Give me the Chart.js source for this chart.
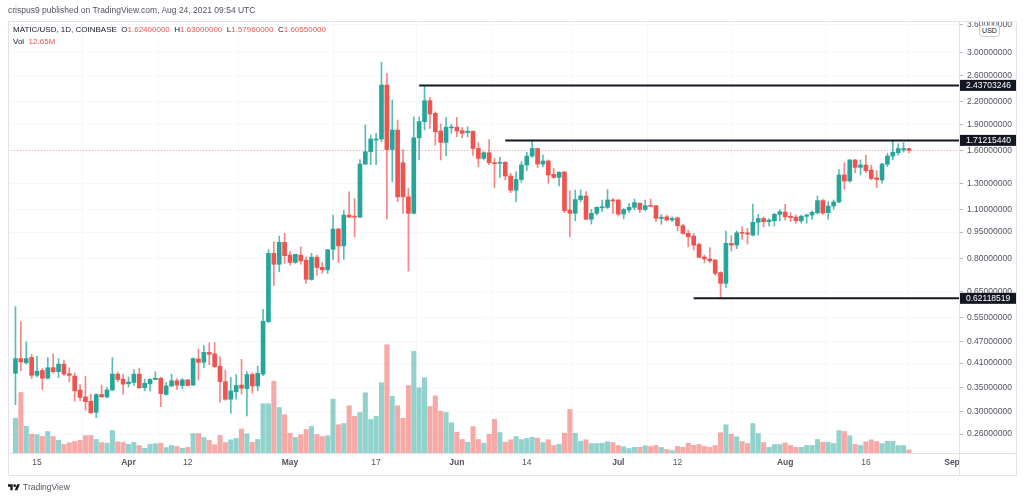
<!DOCTYPE html>
<html>
<head>
<meta charset="utf-8">
<script src="https://cdn.jsdelivr.net/npm/chart.js@4.4.0/dist/chart.umd.min.js"></script>
<style>
html, body { margin: 0; padding: 0; background: #fff; }
#wrap { position: relative; width: 1024px; height: 497px; overflow: hidden; font-family: "Liberation Sans", Arial, sans-serif; }
#chart { position: absolute; left: 0; top: 0; }
.txt { position: absolute; white-space: nowrap; line-height: 1; }
#published { left: 8px; top: 6px; font-size: 8.5px; color: #50535e; }
#legend { left: 13px; top: 26px; font-size: 8px; color: #131722; }
#vol { left: 13px; top: 38px; font-size: 8px; color: #131722; }
.red { color: #ef5350; }
#usd { left: 979px; top: 25px; width: 19px; height: 10px; border: 1px solid #c9ccd4; border-radius: 3px; background: #fff; font-size: 7px; color: #131722; text-align: center; line-height: 10px; }
#logo { left: 8px; top: 483px; font-size: 8.5px; color: #50535e; display: flex; align-items: center; gap: 3px; }
</style>
</head>
<body>
<div id="wrap">
    <canvas id="chart" width="1024" height="497"></canvas>
    <div class="txt" id="published">crispus9 published on TradingView.com, Aug 24, 2021 09:54 UTC</div>
    <div class="txt" id="legend">MATIC/USD, 1D, COINBASE&nbsp;&nbsp;O<span class="red">1.62400000</span>&nbsp;&nbsp;H<span class="red">1.63000000</span>&nbsp;&nbsp;L<span class="red">1.57960000</span>&nbsp;&nbsp;C<span class="red">1.60550000</span></div>
    <div class="txt" id="vol">Vol&nbsp;&nbsp;<span class="red">12.65M</span></div>
    <div class="txt" id="usd">USD</div>
    <div class="txt" id="logo">
        <svg width="12" height="8" viewBox="0 0 36 24"><path d="M14 22H7V11H0V4h14v18z" fill="#131722"/><circle cx="20" cy="8" r="4" fill="#131722"/><path d="M28 22h-8l7.5-18h8L28 22z" fill="#131722"/></svg>
        <span>TradingView</span>
    </div>
</div>
<script>
// Daily candles, index 0 = Mar 11 2021, last = Aug 24 2021
const opens = [
    0.384, 0.422, 0.411, 0.425, 0.379, 0.391, 0.372, 0.398, 0.388, 0.407,
    0.383, 0.377, 0.345, 0.330, 0.321, 0.299, 0.335, 0.330, 0.345, 0.382,
    0.370, 0.359, 0.362, 0.382, 0.350, 0.359, 0.369, 0.372, 0.335, 0.354,
    0.366, 0.355, 0.368, 0.356, 0.421, 0.412, 0.439, 0.435, 0.402, 0.364,
    0.325, 0.341, 0.356, 0.348, 0.381, 0.354, 0.382, 0.535, 0.829, 0.773,
    0.890, 0.820, 0.782, 0.820, 0.794, 0.701, 0.809, 0.758, 0.746, 0.851,
    0.969, 0.870, 1.060, 1.053, 1.046, 1.471, 1.592, 1.716, 1.727, 2.442,
    1.614, 1.830, 1.484, 1.192, 1.072, 1.740, 1.931, 2.209, 2.036, 1.818,
    1.690, 1.856, 1.864, 1.822, 1.800, 1.815, 1.625, 1.525, 1.582, 1.484,
    1.478, 1.488, 1.362, 1.243, 1.332, 1.462, 1.548, 1.625, 1.471, 1.500,
    1.377, 1.350, 1.398, 1.095, 1.072, 1.171, 1.198, 1.032, 1.072, 1.111,
    1.114, 1.168, 1.168, 1.067, 1.095, 1.114, 1.143, 1.099, 1.128, 1.126,
    1.037, 1.048, 1.027, 1.041, 0.990, 0.943, 0.926, 0.878, 0.810, 0.800,
    0.794, 0.733, 0.684, 0.884, 0.874, 0.949, 0.946, 0.932, 1.012, 1.037,
    1.016, 1.022, 1.065, 1.081, 1.052, 1.046, 1.022, 1.052, 1.060, 1.075,
    1.163, 1.076, 1.124, 1.153, 1.371, 1.320, 1.510, 1.440, 1.462, 1.416,
    1.346, 1.328, 1.469, 1.548, 1.582, 1.612, 1.624
];
const highs = [
    0.589, 0.535, 0.470, 0.434, 0.428, 0.396, 0.425, 0.435, 0.422, 0.418,
    0.398, 0.385, 0.357, 0.377, 0.336, 0.337, 0.356, 0.351, 0.425, 0.387,
    0.382, 0.375, 0.393, 0.397, 0.370, 0.371, 0.388, 0.374, 0.362, 0.382,
    0.371, 0.371, 0.369, 0.424, 0.448, 0.459, 0.467, 0.468, 0.427, 0.392,
    0.374, 0.381, 0.420, 0.388, 0.385, 0.402, 0.579, 0.849, 0.893, 0.926,
    0.943, 0.838, 0.825, 0.864, 0.811, 0.829, 0.820, 0.782, 0.851, 1.060,
    0.974, 1.093, 1.231, 1.179, 1.514, 1.890, 1.771, 1.790, 2.826, 2.634,
    2.219, 1.952, 1.614, 1.257, 1.992, 1.992, 2.437, 2.256, 2.058, 1.901,
    1.984, 1.900, 1.984, 1.861, 1.868, 1.820, 1.687, 1.592, 1.721, 1.525,
    1.535, 1.494, 1.386, 1.401, 1.494, 1.586, 1.712, 1.627, 1.558, 1.510,
    1.430, 1.401, 1.401, 1.239, 1.245, 1.245, 1.232, 1.100, 1.118, 1.168,
    1.249, 1.180, 1.170, 1.106, 1.143, 1.175, 1.148, 1.168, 1.175, 1.128,
    1.064, 1.060, 1.048, 1.048, 1.001, 0.963, 0.943, 0.887, 0.820, 0.860,
    0.798, 0.737, 0.957, 0.928, 0.957, 0.984, 0.974, 1.138, 1.065, 1.048,
    1.035, 1.072, 1.099, 1.136, 1.076, 1.060, 1.060, 1.067, 1.090, 1.198,
    1.175, 1.155, 1.168, 1.420, 1.484, 1.514, 1.514, 1.510, 1.558, 1.462,
    1.410, 1.478, 1.577, 1.712, 1.675, 1.687, 1.630
];
const lows = [
    0.314, 0.390, 0.407, 0.371, 0.375, 0.346, 0.370, 0.384, 0.373, 0.379,
    0.364, 0.321, 0.322, 0.303, 0.297, 0.289, 0.329, 0.328, 0.343, 0.364,
    0.336, 0.352, 0.355, 0.348, 0.343, 0.343, 0.368, 0.310, 0.334, 0.352,
    0.346, 0.348, 0.354, 0.355, 0.368, 0.398, 0.406, 0.398, 0.319, 0.323,
    0.297, 0.325, 0.336, 0.292, 0.338, 0.343, 0.378, 0.532, 0.674, 0.737,
    0.777, 0.769, 0.778, 0.773, 0.684, 0.698, 0.721, 0.729, 0.729, 0.798,
    0.782, 0.798, 1.044, 0.922, 1.042, 1.465, 1.465, 1.465, 1.697, 1.032,
    1.314, 1.155, 1.072, 0.740, 1.068, 1.510, 1.830, 1.849, 1.661, 1.510,
    1.552, 1.792, 1.753, 1.740, 1.751, 1.554, 1.445, 1.510, 1.465, 1.263,
    1.350, 1.328, 1.224, 1.155, 1.308, 1.410, 1.535, 1.438, 1.445, 1.300,
    1.341, 1.278, 1.076, 0.922, 1.022, 1.155, 1.030, 1.001, 1.060, 1.083,
    1.106, 1.072, 1.053, 1.034, 1.076, 1.095, 1.076, 1.090, 1.118, 1.016,
    0.999, 1.022, 1.016, 0.959, 0.937, 0.864, 0.847, 0.806, 0.780, 0.780,
    0.721, 0.621, 0.666, 0.842, 0.855, 0.908, 0.880, 0.928, 0.932, 0.983,
    0.988, 0.988, 1.020, 1.027, 1.016, 1.006, 1.006, 1.006, 1.031, 1.067,
    1.065, 1.031, 1.100, 1.148, 1.252, 1.308, 1.392, 1.371, 1.392, 1.328,
    1.263, 1.300, 1.445, 1.510, 1.558, 1.586, 1.5796
];
const closes = [
    0.422, 0.413, 0.422, 0.379, 0.389, 0.372, 0.398, 0.388, 0.407, 0.382,
    0.379, 0.343, 0.329, 0.320, 0.298, 0.335, 0.330, 0.345, 0.382, 0.369,
    0.358, 0.363, 0.382, 0.350, 0.360, 0.369, 0.372, 0.337, 0.354, 0.366,
    0.356, 0.368, 0.355, 0.422, 0.412, 0.439, 0.434, 0.401, 0.364, 0.325,
    0.343, 0.355, 0.349, 0.381, 0.354, 0.384, 0.536, 0.829, 0.773, 0.890,
    0.817, 0.782, 0.824, 0.790, 0.702, 0.809, 0.757, 0.746, 0.848, 0.969,
    0.870, 1.060, 1.046, 1.046, 1.471, 1.592, 1.727, 1.727, 2.442, 1.614,
    1.830, 1.192, 1.192, 1.072, 1.740, 1.931, 2.209, 2.027, 1.810, 1.690,
    1.864, 1.864, 1.818, 1.792, 1.815, 1.625, 1.525, 1.582, 1.484, 1.474,
    1.488, 1.362, 1.243, 1.332, 1.462, 1.548, 1.625, 1.471, 1.500, 1.371,
    1.350, 1.395, 1.090, 1.072, 1.171, 1.198, 1.032, 1.072, 1.114, 1.118,
    1.168, 1.160, 1.067, 1.099, 1.114, 1.148, 1.099, 1.126, 1.121, 1.038,
    1.046, 1.027, 1.037, 0.990, 0.943, 0.922, 0.874, 0.808, 0.800, 0.790,
    0.729, 0.684, 0.884, 0.874, 0.946, 0.943, 0.938, 1.012, 1.037, 1.016,
    1.027, 1.065, 1.083, 1.048, 1.044, 1.022, 1.052, 1.060, 1.079, 1.163,
    1.074, 1.123, 1.153, 1.371, 1.320, 1.510, 1.440, 1.462, 1.410, 1.340,
    1.332, 1.471, 1.548, 1.586, 1.625, 1.624, 1.6055
];
// volume in millions
const volumes = [
    139, 242, 107, 75, 73, 66, 86, 66, 51, 34,
    41, 46, 51, 69, 70, 54, 42, 39, 90, 45,
    42, 35, 43, 30, 19, 35, 37, 39, 22, 30,
    26, 19, 23, 78, 78, 62, 51, 33, 70, 42,
    53, 58, 96, 77, 43, 54, 197, 197, 287, 182,
    153, 79, 62, 73, 94, 106, 74, 66, 69, 215,
    113, 118, 189, 147, 162, 241, 134, 147, 281, 433,
    226, 189, 139, 270, 407, 261, 301, 186, 229, 167,
    162, 121, 83, 54, 43, 106, 54, 39, 75, 134,
    82, 43, 53, 66, 54, 58, 63, 59, 42, 53,
    30, 35, 79, 174, 79, 47, 53, 38, 38, 39,
    45, 42, 30, 25, 18, 23, 23, 29, 26, 30,
    22, 14, 10, 26, 23, 39, 31, 34, 26, 23,
    30, 81, 113, 75, 65, 46, 38, 118, 78, 42,
    23, 34, 34, 41, 30, 23, 23, 30, 30, 54,
    43, 43, 38, 90, 86, 69, 34, 30, 45, 53,
    46, 38, 47, 47, 30, 30, 12.65
];

// time axis labels (day index from Mar 11)
const dateTickIdx = [4, 21, 32, 51, 67, 82, 95, 112, 123, 143, 158, 174];
const dateTickLabels = ['15', 'Apr', '12', 'May', '17', 'Jun', '14', 'Jul', '12', 'Aug', '16', 'Sep'];
const monthLabels = ['Apr', 'May', 'Jun', 'Jul', 'Aug', 'Sep'];

// price axis labels
const priceTicks = [3.6, 3.0, 2.6, 2.2, 1.9, 1.6, 1.3, 1.1, 0.95, 0.80, 0.65, 0.55, 0.47, 0.41, 0.35, 0.30, 0.26];

// drawn horizontal levels and the day they start from
const levelValues = [2.43703246, 1.71215440, 0.62118519];
const levelStartIdx = [75, 91, 126];
const lastPrice = 1.6055;

const X_MIN = -1.39;
const X_MAX = 175.3;
const UP = '#26a69a';
const DOWN = '#ef5350';
const FONT = '"Liberation Sans", Arial, sans-serif';

const isUp = opens.map((o, i) => closes[i] >= o);

const bodies = opens.map((o, i) => ({ x: i, y: [Math.min(o, closes[i]), Math.max(o, closes[i])] }));
const wicks = highs.map((h, i) => ({ x: i, y: [lows[i], h] }));
const vols = volumes.map((v, i) => ({ x: i, y: v }));

const levelSets = levelValues.map((v, k) => ({
    type: 'line',
    data: [{ x: levelStartIdx[k], y: v }, { x: X_MAX, y: v }],
    borderColor: '#131722',
    borderWidth: 2,
    pointRadius: 0,
    order: 0
}));

// black price boxes on the right axis + pane frame
const overlayPlugin = {
    id: 'overlay',
    afterDraw(chart) {
        const ctx = chart.ctx;
        const y = chart.scales.y;
        const area = chart.chartArea;
        ctx.save();
        ctx.strokeStyle = '#e0e3eb';
        ctx.lineWidth = 1;
        ctx.beginPath();
        ctx.moveTo(8.5, 21.5); ctx.lineTo(1016.5, 21.5);
        ctx.lineTo(1016.5, 475.5); ctx.lineTo(8.5, 475.5); ctx.closePath();
        ctx.moveTo(area.right + 0.5, 21.5); ctx.lineTo(area.right + 0.5, 475.5);
        ctx.moveTo(8.5, area.bottom + 0.5); ctx.lineTo(1016.5, area.bottom + 0.5);
        ctx.stroke();

        ctx.font = '8.5px ' + FONT;
        ctx.textBaseline = 'middle';
        levelValues.forEach(v => {
            const py = y.getPixelForValue(v);
            ctx.fillStyle = '#131722';
            ctx.fillRect(area.right + 1, py - 5.5, 56, 11);
            ctx.fillStyle = '#ffffff';
            ctx.fillText(v.toFixed(8), area.right + 7, py + 0.5);
        });
        ctx.restore();
    }
};

const chart = new Chart(document.getElementById('chart'), {
    type: 'bar',
    data: {
        datasets: [
            ...levelSets,
            {
                type: 'line',
                data: [{ x: X_MIN, y: lastPrice }, { x: X_MAX, y: lastPrice }],
                borderColor: 'rgba(239,83,80,0.55)',
                borderWidth: 1,
                borderDash: [1, 2],
                pointRadius: 0,
                order: 4
            },
            {
                data: bodies,
                backgroundColor: isUp.map(u => u ? UP : DOWN),
                barThickness: 4,
                minBarLength: 1,
                grouped: false,
                order: 1
            },
            {
                data: wicks,
                backgroundColor: isUp.map(u => u ? 'rgba(38,166,154,0.75)' : 'rgba(239,83,80,0.7)'),
                barThickness: 1,
                grouped: false,
                order: 2
            },
            {
                data: vols,
                yAxisID: 'yv',
                backgroundColor: isUp.map(u => u ? 'rgba(38,166,154,0.5)' : 'rgba(239,83,80,0.5)'),
                barThickness: 4.4,
                grouped: false,
                order: 3
            }
        ]
    },
    options: {
        responsive: false,
        animation: false,
        devicePixelRatio: 1,
        layout: { padding: { left: 8, top: 21, right: 0, bottom: 0 } },
        plugins: { legend: { display: false }, tooltip: { enabled: false } },
        scales: {
            x: {
                type: 'linear',
                min: X_MIN,
                max: X_MAX,
                offset: false,
                afterBuildTicks: s => { s.ticks = dateTickIdx.map(v => ({ value: v })); },
                afterFit: s => { s.height = 44; },
                grid: { color: '#f6f7fa', drawTicks: false },
                border: { display: false },
                ticks: {
                    autoSkip: false,
                    maxRotation: 0,
                    padding: 5,
                    color: '#50535e',
                    font: c => {
                        const lbl = dateTickLabels[dateTickIdx.indexOf(c.tick && c.tick.value)];
                        return { family: FONT, size: 8.5, weight: monthLabels.includes(lbl) ? 'bold' : 'normal' };
                    },
                    callback: v => dateTickLabels[dateTickIdx.indexOf(v)]
                }
            },
            y: {
                type: 'logarithmic',
                position: 'right',
                min: 0.2302,
                max: 3.684,
                afterBuildTicks: s => { s.ticks = priceTicks.map(v => ({ value: v })); },
                afterFit: s => { s.width = 65; },
                grid: { color: '#f6f7fa', tickColor: '#b2b5be', tickLength: 4 },
                border: { display: false },
                ticks: {
                    autoSkip: false,
                    padding: 4,
                    color: '#50535e',
                    font: { family: FONT, size: 8.5 },
                    callback: v => Number(v).toFixed(8)
                }
            },
            yv: {
                type: 'linear',
                display: false,
                min: 0,
                max: 1728
            }
        }
    },
    plugins: [overlayPlugin]
});
</script>
</body>
</html>
